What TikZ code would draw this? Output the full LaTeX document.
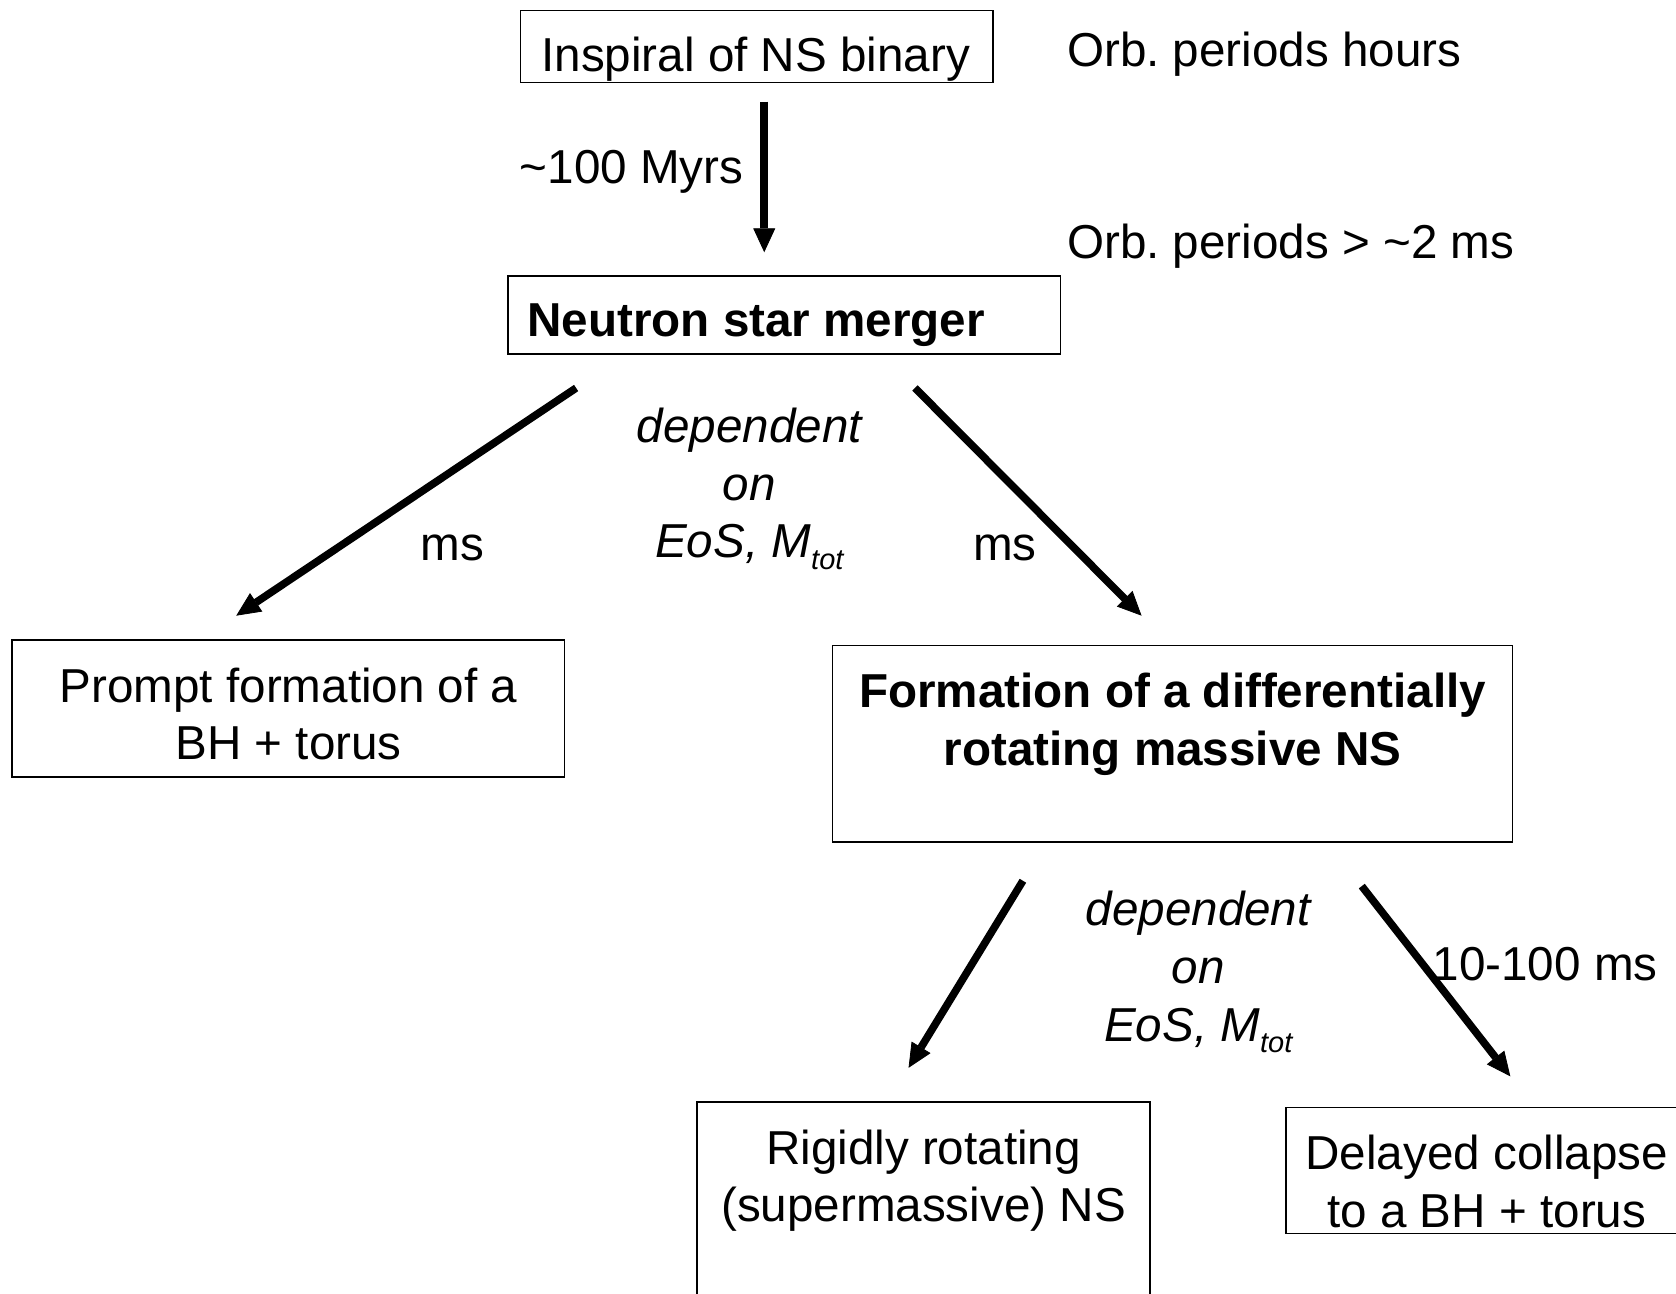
\documentclass[tikz,border=0pt]{standalone}
\usepackage{fontspec}
\setmainfont{Liberation Sans}
\usetikzlibrary{arrows.meta,fit}
\frenchspacing
\newcommand{\mtot}{\textit{M}\raisebox{-0.45ex}{\fontsize{14.5}{14.5}\selectfont\textit{tot}}}
\begin{document}
\begin{tikzpicture}[x=0.5344pt,y=-0.5344pt,
  box/.style={draw,line width=0.8pt,inner sep=0pt},
  lbl/.style={inner sep=0pt,anchor=base,font=\fontsize{23.8}{28.8}\selectfont},
  lblw/.style={lbl,anchor=base west},
  arr/.style={line width=3.8pt,-{Triangle[length=12pt,width=11pt,line width=0.4pt]}}]
\useasboundingbox (0,0) rectangle (1568,1210);
\fill[white] (0,0) rectangle (1568,1210);
\clip (0,0) rectangle (1568,1210);
% boxes
\node[box,fit={(487,10) (929,77)}] (b1) {};
\node[box,fit={(475,258) (992,331)}] (b2) {};
\node[box,fit={(11,599) (528,727)}] (b3) {};
\node[box,fit={(779,604) (1415,788)}] (b4) {};
\node[box,fit={(652,1031) (1076,1260)}] (b5) {};
\node[box,fit={(1203,1036) (1620,1154)}] (b6) {};
% texts
\node[lbl] (t1) at (707,67) {Inspiral of NS binary};
\node[lblw] (o1) at (998,62) {Orb. periods hours};
\node[lblw] (m1) at (486,172) {\textasciitilde100 Myrs};
\node[lblw] (o2) at (998,242) {Orb. periods > \textasciitilde2 ms};
\node[lblw] (t2) at (493,315) {\bfseries Neutron star merger};
\node[lbl] (d1a) at (701,414) {\itshape dependent};
\node[lbl] (d1b) at (701,468) {\itshape on};
\node[lbl] (d1c) at (701,522) {\itshape EoS, \mtot};
\node[lbl] (ms1) at (423,524) {ms};
\node[lbl] (ms2) at (940,524) {ms};
\node[lbl] (t3a) at (270,657) {Prompt formation of a};
\node[lbl] (t3b) at (270,711) {BH + torus};
\node[lbl] (t4a) at (1097,662) {\bfseries Formation of a differentially};
\node[lbl] (t4b) at (1097,716) {\bfseries rotating massive NS};
\node[lbl] (d2a) at (1121,866) {\itshape dependent};
\node[lbl] (d2b) at (1121,920) {\itshape on};
\node[lbl] (d2c) at (1121,974) {\itshape EoS, \mtot};
\node[lblw] (ms3) at (1340,917) {10-100 ms};
\node[lbl] (t5a) at (864,1089) {Rigidly rotating};
\node[lbl] (t5b) at (864,1143) {(supermassive) NS};
\node[lbl] (t6a) at (1391,1094) {Delayed collapse};
\node[lbl] (t6b) at (1391,1148) {to a BH + torus};
% arrow end points
\coordinate (a1s) at (715,95);  \coordinate (a1e) at (715,236);
\coordinate (a2s) at (539,363); \coordinate (a2e) at (221,576);
\coordinate (a3s) at (856,363); \coordinate (a3e) at (1068,576);
\coordinate (a4s) at (957,824); \coordinate (a4e) at (850,999);
\coordinate (a5s) at (1274,829); \coordinate (a5e) at (1413,1007);
\draw[arr] (a1s) -- (a1e);
\draw[arr] (a2s) -- (a2e);
\draw[arr] (a3s) -- (a3e);
\draw[arr] (a4s) -- (a4e);
\draw[arr] (a5s) -- (a5e);
\end{tikzpicture}
\end{document}
